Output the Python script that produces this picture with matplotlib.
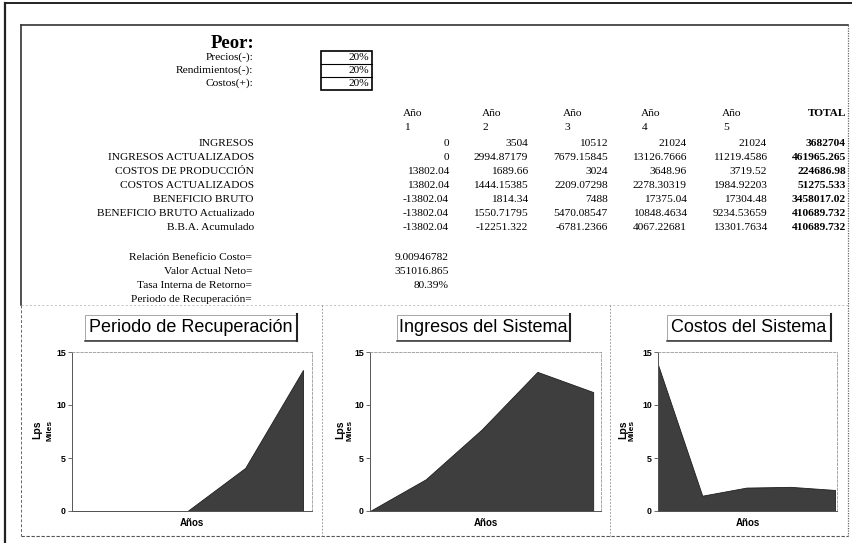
import matplotlib.pyplot as plt
import numpy as np
from matplotlib.patches import Rectangle

# datos del escenario "Peor"
anios = [1, 2, 3, 4, 5]
filas = ['INGRESOS', 'INGRESOS ACTUALIZADOS', 'COSTOS DE PRODUCCIÓN',
         'COSTOS ACTUALIZADOS', 'BENEFICIO BRUTO',
         'BENEFICIO BRUTO Actualizado', 'B.B.A. Acumulado']
ingresos = [0, 3504, 10512, 21024, 21024]
ingresos_act = [0, 2994.87179, 7679.15845, 13126.7666, 11219.4586]
costos_prod = [13802.04, 1689.66, 3024, 3648.96, 3719.52]
costos_act = [13802.04, 1444.15385, 2209.07298, 2278.30319, 1984.92203]
beneficio = [-13802.04, 1814.34, 7488, 17375.04, 17304.48]
beneficio_act = [-13802.04, 1550.71795, 5470.08547, 10848.4634, 9234.53659]
bba = [-13802.04, -12251.322, -6781.2366, 4067.22681, 13301.7634]
totales = [3682704, 461965.265, 224686.98, 51275.533, 3458017.02,
           410689.732, 410689.732]

escenario = ['Precios(-):', 'Rendimientos(-):', 'Costos(+):']
variacion = [0.20, 0.20, 0.20]

indicadores = ['Relación Beneficio Costo=', 'Valor Actual Neto=',
               'Tasa Interna de Retorno=', 'Periodo de Recuperación=']
rbc = 9.00946782
van = 351016.865
tir = 0.8039

SERIF = 'Liberation Serif'
SANS = 'Liberation Sans'
W, H = 853, 543
FS = 8.2


def general(v):
    # imita el formato "General" de Excel (10 caracteres)
    if float(v).is_integer():
        return str(int(v))
    for d in range(9, -1, -1):
        s = f'{v:.{d}f}'
        if len(s) <= 10:
            break
    return s.rstrip('0').rstrip('.')


fig = plt.figure(figsize=(W / 100, H / 100), dpi=100)
fig.patch.set_facecolor('white')

# lienzo de fondo en pixeles
bg = fig.add_axes([0, 0, 1, 1])
bg.set_xlim(0, W)
bg.set_ylim(H, 0)
bg.axis('off')

# marcos
bg.plot([5, W], [3, 3], color='#222222', lw=1.4)
bg.plot([5, 5], [3, H], color='#222222', lw=1.6)
bg.plot([21, 848], [25, 25], color='#333333', lw=1.2)
bg.plot([21, 21], [25, 305], color='#333333', lw=1.2)
bg.plot([21, 21], [305, 536], color='#666666', lw=0.7, ls=(0, (3, 2)))
bg.plot([848, 848], [25, 536], color='#666666', lw=0.9, ls=(0, (1, 1)))
bg.plot([21, 848], [536, 536], color='#555555', lw=0.8, ls=(0, (3, 1.5)))
bg.plot([21, 848], [305, 305], color='#aaaaaa', lw=0.5, ls=(0, (3, 3)))
for xv in [322, 610]:
    bg.plot([xv, xv], [305, 536], color='#888888', lw=0.6, ls=(0, (2, 2)))

# encabezado
bg.text(254, 43, 'Peor:', family=SERIF, fontsize=13.5, weight='bold',
        ha='right', va='center')
fila_y = [57.5, 70.5, 83.5]
for lab, v, y in zip(escenario, variacion, fila_y):
    bg.text(253, y, lab, family=SERIF, fontsize=FS, ha='right', va='center')
    bg.text(369, y, f'{v:.0%}', family=SERIF, fontsize=FS, ha='right', va='center')
bg.add_patch(Rectangle((321, 51), 51, 39, fill=False, ec='black', lw=1.2))
for y in [64, 77]:
    bg.plot([321, 372], [y, y], color='black', lw=0.8)

# tabla
col_der = [449, 528, 608, 687, 767]
col_izq = [403, 482, 563, 641, 722]
for a, x in zip(anios, col_izq):
    bg.text(x, 113, 'Año', family=SERIF, fontsize=FS, ha='left', va='center')
    bg.text(x + 1, 127, str(a), family=SERIF, fontsize=FS, ha='left', va='center')
bg.text(846, 113, 'TOTAL', family=SERIF, fontsize=FS, weight='bold',
        ha='right', va='center')

series = [ingresos, ingresos_act, costos_prod, costos_act, beneficio,
          beneficio_act, bba]
for i, (lab, vals, tot) in enumerate(zip(filas, series, totales)):
    y = 143 + 14 * i
    bg.text(254, y, lab, family=SERIF, fontsize=FS, ha='right', va='center')
    for v, x in zip(vals, col_der):
        bg.text(x, y, general(v), family=SERIF, fontsize=FS, ha='right', va='center')
    bg.text(846, y, general(tot), family=SERIF, fontsize=FS, weight='bold',
            ha='right', va='center')

valores_ind = [general(rbc), general(van), f'{tir:.2%}', '']
for i, (lab, val) in enumerate(zip(indicadores, valores_ind)):
    y = 257 + 14 * i
    bg.text(252, y, lab, family=SERIF, fontsize=FS, ha='right', va='center')
    bg.text(449, y, val, family=SERIF, fontsize=FS, ha='right', va='center')

# graficos
graficos = [
    ('Periodo de Recuperación', bba, (72, 312), (85, 297), (37, 50), 4.156),
    ('Ingresos del Sistema', ingresos_act, (370, 601), (397, 570), (340, 350), 4.14),
    ('Costos del Sistema', costos_act, (658, 837), (667, 831), (623, 632), 4.045),
]
x = np.arange(len(anios))
for titulo, vals, (xl, xr), (bl, br), (lx, mx), xmax in graficos:
    ax = fig.add_axes([xl / W, 1 - 511 / H, (xr - xl) / W, (511 - 352) / H])
    ax.set_facecolor('none')
    y = np.clip(np.array(vals) / 1000.0, 0, None)
    ax.fill_between(x, 0, y, color='#3e3e3e', edgecolor='#1e1e1e', lw=0.6)
    ax.set_xlim(0, xmax)
    ax.set_ylim(0, 15)
    ax.set_xticks([])
    ax.set_yticks([0, 5, 10, 15])
    ax.tick_params(axis='y', direction='out', length=3, width=0.6,
                   color='#555555', labelsize=6.3, pad=1.5)
    for t in ax.get_yticklabels():
        t.set_family(SANS)
        t.set_weight('bold')
    for s in ['left', 'bottom']:
        ax.spines[s].set_color('#555555')
        ax.spines[s].set_linewidth(0.7)
    for s in ['top', 'right']:
        ax.spines[s].set_color('#999999')
        ax.spines[s].set_linewidth(0.6)
        ax.spines[s].set_linestyle((0, (3, 2)))

    # caja del titulo con sombra
    bg.add_patch(Rectangle((bl, 315), br - bl, 25, fc='white', ec='#999999', lw=0.6))
    bg.plot([br, br], [314, 341], color='#222222', lw=1.5)
    bg.plot([bl, br], [340.5, 340.5], color='#333333', lw=1.1)
    bg.text((bl + br) / 2, 328, titulo, family=SANS, fontsize=13,
            ha='center', va='center')

    bg.text(lx, 430, 'Lps', family=SANS, fontsize=7.5, weight='bold',
            rotation=90, ha='center', va='center')
    bg.text(mx, 430, 'Miles', family=SANS, fontsize=6, weight='bold',
            rotation=90, ha='center', va='center')
    bg.text((xl + xr) / 2, 523, 'Años', family=SANS, fontsize=7,
            weight='bold', ha='center', va='center')

fig.savefig('out.png', dpi=100)
